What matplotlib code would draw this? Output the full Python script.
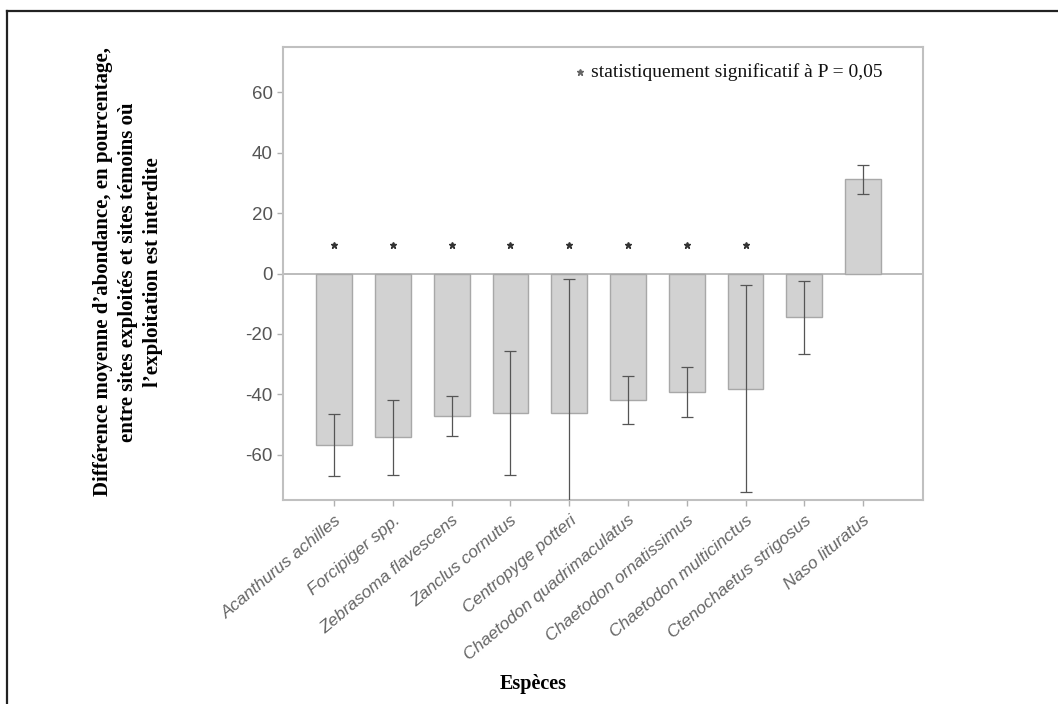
import numpy as np
import matplotlib.pyplot as plt
from matplotlib.lines import Line2D

especes = ["Acanthurus achilles", "Forcipiger spp.", "Zebrasoma flavescens",
           "Zanclus cornutus", "Centropyge potteri", "Chaetodon quadrimaculatus",
           "Chaetodon ornatissimus", "Chaetodon multicinctus",
           "Ctenochaetus strigosus", "Naso lituratus"]
moyenne = [-56.8, -54.2, -47.2, -46.3, -46.3, -41.9, -39.3, -38.2, -14.5, 31.2]
erreur = [10.2, 12.4, 6.6, 20.5, 44.5, 8.0, 8.3, 34.3, 12.0, 4.8]
significatif = [True, True, True, True, True, True, True, True, False, False]
yticks = [-60, -40, -20, 0, 20, 40, 60]

fig = plt.figure(figsize=(10.58, 7.04), dpi=100)
ax = fig.add_axes([0.2675, 0.2898, 0.6049, 0.6434])

x = np.arange(len(especes))
ax.bar(x, moyenne, width=0.61, color="#d2d2d2", edgecolor="#a8a8a8", linewidth=1, zorder=2)
ax.errorbar(x, moyenne, yerr=erreur, fmt="none", ecolor="#555555",
            elinewidth=0.9, capsize=4, capthick=0.9, zorder=3)
ax.axhline(0, color="#b0b0b0", linewidth=1.2, zorder=1)

xs = x[np.array(significatif)]
ax.plot(xs, [9.3] * len(xs), linestyle="none", marker="*", markersize=5,
        color="#333333", zorder=4)

ax.set_xlim(-0.87, 10.02)
ax.set_ylim(-75, 75)
ax.set_yticks(yticks)
ax.set_yticklabels([str(v) for v in yticks], fontsize=13.5, color="#555555",
                   family="Liberation Sans")
ax.set_xticks(x)
ax.set_xticklabels(especes, rotation=40, ha="right", rotation_mode="anchor",
                   fontsize=12.5, color="#666666", style="italic",
                   family="Liberation Sans")
ax.tick_params(axis="both", direction="out", length=4, color="#b0b0b0", width=1)
ax.tick_params(axis="x", pad=5)

for s in ["top", "right", "left", "bottom"]:
    ax.spines[s].set_color("#c0c0c0")
    ax.spines[s].set_linewidth(1.5)

# legend note
ax.plot([0.464], [0.944], transform=ax.transAxes, marker="*", markersize=5,
        color="#666666", linestyle="none")
ax.text(0.482, 0.944, "statistiquement significatif à P = 0,05",
        transform=ax.transAxes, fontsize=14, family="Liberation Serif",
        ha="left", va="center", color="#111111")

fig.text(128 / 1058, 1 - 272 / 704,
         "Différence moyenne d’abondance, en pourcentage,\n"
         "entre sites exploités et sites témoins où\n"
         "l’exploitation est interdite",
         rotation=90, ha="center", va="center", multialignment="center",
         fontsize=15, fontweight="bold", family="Liberation Serif",
         linespacing=1.35)
fig.text(533 / 1058, 1 - 684 / 704, "Espèces", ha="center", va="center",
         fontsize=14.5, fontweight="bold", family="Liberation Serif")

# open frame: top and left edges only
fig.add_artist(Line2D([7 / 1058, 7 / 1058], [0, 1 - 11 / 704],
                      transform=fig.transFigure, color="#222222", linewidth=1.6))
fig.add_artist(Line2D([7 / 1058, 1], [1 - 11 / 704, 1 - 11 / 704],
                      transform=fig.transFigure, color="#222222", linewidth=1.6))

fig.savefig("out.png", dpi=100)
